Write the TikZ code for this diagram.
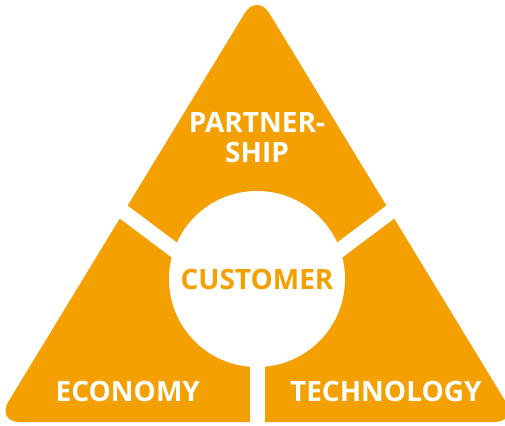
\documentclass[tikz,border=0pt]{standalone}
\usepackage{fontspec}
\setmainfont{Open Sans}
\usepackage{tikz}
\usetikzlibrary{calc}
\definecolor{orangeA}{RGB}{244,160,0}
\tikzset{
  piece/.style={fill=orangeA, rounded corners=24pt},
  gap/.style={white, line width=15pt},
  label/.style={text=white, font=\bfseries\fontsize{28}{30}\selectfont, inner sep=0pt, align=center},
}

\begin{document}
\begin{tikzpicture}[x=1pt,y=-1pt]
	\useasboundingbox (0,0) rectangle (505,425);
		% triangle
		\fill[piece] (257,-7) -- (518,422) -- (-4,422) -- cycle;
		% white gaps
		\coordinate (P) at (257,312);
		\coordinate (gl) at (57,162);
		\coordinate (gr) at (457,162);
		\coordinate (gb) at (257,440);
		\draw[gap] (P) -- (gl);
		\draw[gap] (P) -- (gr);
		\draw[gap] (P) -- (gb);
		% centre
		\node[circle, fill=white, minimum size=176pt, inner sep=0pt] (cust) at (257,279) {};
		\node[label, text=orangeA, anchor=base] (custtxt) at (257,289.5) {CUSTOMER};
		\node[label, anchor=base] (partner) at (257,162.7) {PARTNER-\\SHIP};
		\node[label, anchor=base] (eco) at (127.8,401) {ECONOMY};
		\node[label, anchor=base] (tech) at (385.8,401) {TECHNOLOGY};
\end{tikzpicture}
\end{document}
